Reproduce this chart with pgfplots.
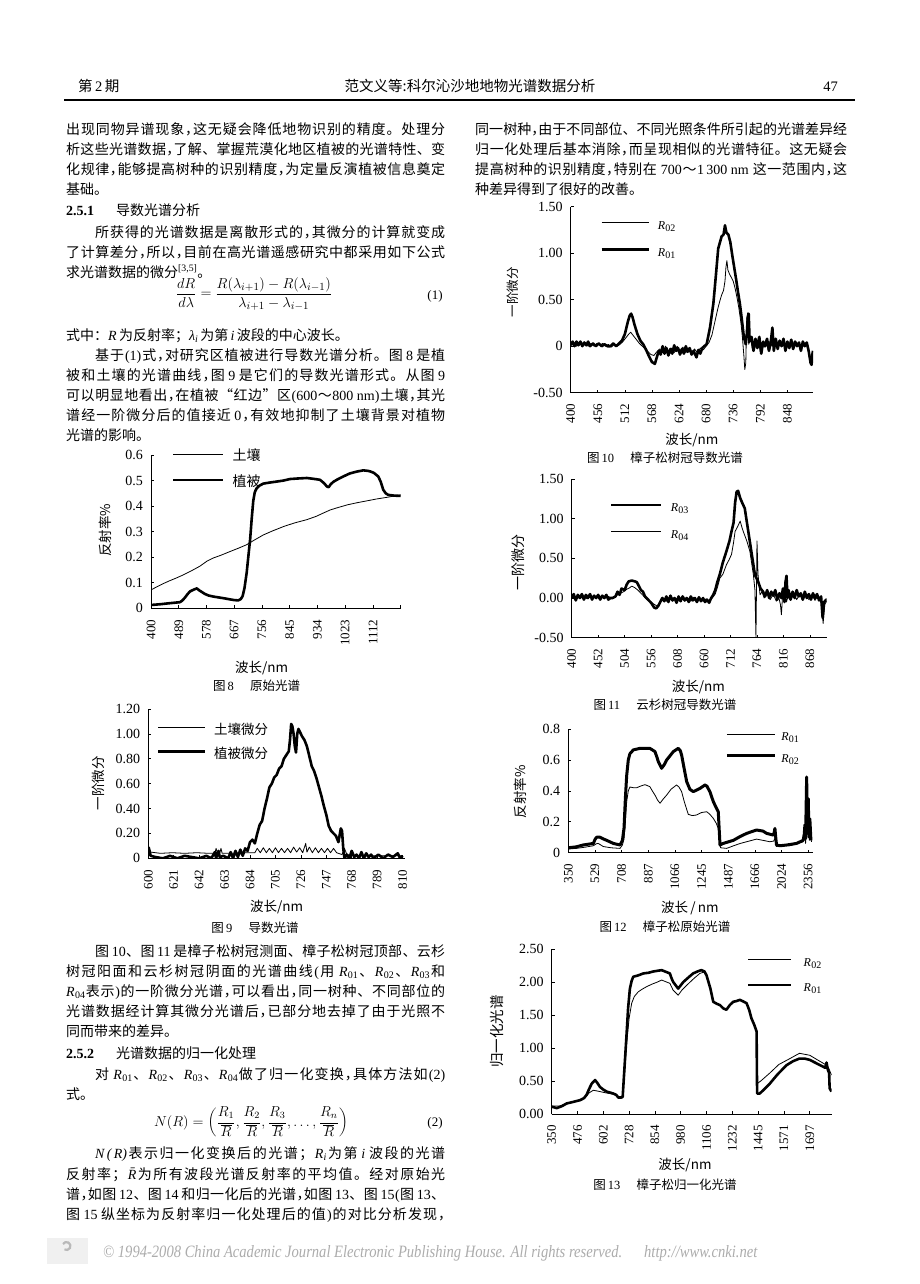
\documentclass[border=0pt]{standalone}
\usepackage{pgfplots}
\pgfplotsset{compat=1.18}
\usepackage{fontspec}
\usepackage{graphicx}
\setmainfont{Noto Sans CJK SC}
\newfontfamily\lat{Liberation Serif}
\makeatletter
\newcommand\jl[2]{\hbox to #1{\@tfor\@jt:=#2\do{{\@jt}\hfil}\unskip}}
\makeatother
\newcommand\dou{\makebox[0.5em][l]{，}}
\newcommand\Rs[1]{{\lat\itshape R\kern0.3pt\raisebox{-0.35ex}{\fontsize{10}{10}\selectfont\upshape #1}}}
\tikzset{tl/.style={anchor=base west, inner sep=0pt, font=\fontsize{14}{16}\selectfont},
  capn/.style={anchor=center, inner sep=0pt, font=\fontsize{12.5}{14}\selectfont}}
\pgfplotsset{pg/.style={scale only axis, anchor=south west, axis lines=left,
  axis line style={-, line width=0.7pt}, tick align=inside, major tick length=3pt,
  tick style={line width=0.6pt, black}, enlargelimits=false, no markers,
  every axis plot/.append style={black, line join=round},
  yticklabel style={font=\fontsize{14}{14}\selectfont\lat, anchor=east, inner sep=0pt, xshift=-8pt},
  xticklabel style={font=\fontsize{13}{13}\selectfont\lat, rotate=90, anchor=east, inner xsep=11pt, inner ysep=0pt},
  label style={font=\fontsize{13.5}{14}\selectfont},
  legend cell align=left,
  legend style={draw=none, fill=none, inner sep=0pt, anchor=north west, column sep=8pt,
    nodes={inner sep=0pt, text height=9pt, text depth=3pt}}},
  thn/.style={line width=0.8pt}, thk/.style={line width=2.6pt}}
\begin{document}
\begin{tikzpicture}
\useasboundingbox (0pt,0pt) rectangle (920pt,-1284pt);
\fill[white] (0pt,0pt) rectangle (920pt,-1284pt);
% header
\node[anchor=base west, inner sep=0pt, font=\fontsize{14.5}{16}\selectfont] at (78pt,-92pt) {第\,{\lat 2}\,期};
\node[anchor=base, inner sep=0pt, font=\fontsize{14.5}{16}\selectfont] at (470pt,-92pt) {范文义等:科尔沁沙地地物光谱数据分析};
\node[anchor=base east, inner sep=0pt, font=\fontsize{14.5}{16}\selectfont\lat] at (838pt,-92pt) {47};
\draw[line width=1.1pt] (64pt,-100pt) -- (855pt,-100pt);
% left column top
\node[tl] at (66pt,-135pt) {\jl{379pt}{出现同物异谱现象\dou 这无疑会降低地物识别的精度。处理分}};
\node[tl] at (66pt,-155pt) {\jl{379pt}{析这些光谱数据\dou 了解、掌握荒漠化地区植被的光谱特性、变}};
\node[tl] at (66pt,-175pt) {\jl{379pt}{化规律\dou 能够提高树种的识别精度\dou 为定量反演植被信息奠定}};
\node[tl] at (66pt,-195pt) {基础。};
\node[tl] at (66pt,-215pt) {{\lat\bfseries 2.5.1}};
\node[tl] at (116pt,-215pt) {导数光谱分析};
\node[tl] at (95pt,-237pt) {\jl{350pt}{所获得的光谱数据是离散形式的\dou 其微分的计算就变成}};
\node[tl] at (66pt,-257pt) {\jl{379pt}{了计算差分\dou 所以\dou 目前在高光谱遥感研究中都采用如下公式}};
\node[tl] at (66pt,-277pt) {求光谱数据的微分\textsuperscript{\lat [3,5]}。};
\node[font=\fontsize{15.5}{17}\selectfont] at (254pt,-294pt) {$\displaystyle\frac{dR}{d\lambda}=\frac{R(\lambda_{i+1})-R(\lambda_{i-1})}{\lambda_{i+1}-\lambda_{i-1}}$};
\node[font=\fontsize{13}{15}\selectfont\lat] at (435pt,-296pt) {(1)};
\node[tl] at (66pt,-340pt) {式中：{\lat\itshape R}\,为反射率；{\lat\itshape λ}\raisebox{-0.35ex}{\fontsize{10}{10}\selectfont\lat\itshape i}\,为第\,{\lat\itshape i}\,波段的中心波长。};
\node[tl] at (95pt,-360pt) {\jl{350pt}{基于{\lat (1)}式\dou 对研究区植被进行导数光谱分析。图{\lat\,8\,}是植}};
\node[tl] at (66pt,-380pt) {\jl{379pt}{被和土壤的光谱曲线\dou 图{\lat\,9\,}是它们的导数光谱形式。从图{\lat\,9}}};
\node[tl] at (66pt,-400pt) {\jl{379pt}{可以明显地看出\dou 在植被“红边”区{\lat (600}～{\lat 800 nm)}土壤\dou 其光}};
\node[tl] at (66pt,-420pt) {\jl{379pt}{谱经一阶微分后的值接近{\lat\,0}\dou 有效地抑制了土壤背景对植物}};
\node[tl] at (66pt,-440pt) {光谱的影响。};
% right column top
\node[tl] at (475pt,-135pt) {\jl{372pt}{同一树种\dou 由于不同部位、不同光照条件所引起的光谱差异经}};
\node[tl] at (475pt,-155pt) {\jl{372pt}{归一化处理后基本消除\dou 而呈现相似的光谱特征。这无疑会}};
\node[tl] at (475pt,-175pt) {\jl{372pt}{提高树种的识别精度\dou 特别在{\lat\ 700}～{\lat 1\,300 nm\ }这一范围内\dou 这}};
\node[tl] at (475pt,-195pt) {种差异得到了很好的改善。};
% left column bottom
\node[tl] at (95pt,-956.7pt) {\jl{350pt}{图{\lat\,10}、图{\lat\,11\,}是樟子松树冠测面、樟子松树冠顶部、云杉}};
\node[tl] at (66pt,-976.7pt) {\jl{379pt}{树冠阳面和云杉树冠阴面的光谱曲线{\lat (}用{\ \Rs{01}}、{\Rs{02}}、{\Rs{03}}和}};
\node[tl] at (66pt,-996.7pt) {\jl{379pt}{{\Rs{04}}表示{\lat )}的一阶微分光谱\dou 可以看出\dou 同一树种、不同部位的}};
\node[tl] at (66pt,-1016.7pt) {\jl{379pt}{光谱数据经计算其微分光谱后\dou 已部分地去掉了由于光照不}};
\node[tl] at (66pt,-1036.7pt) {同而带来的差异。};
\node[tl] at (66pt,-1058.3pt) {{\lat\bfseries 2.5.2}};
\node[tl] at (116pt,-1058.3pt) {光谱数据的归一化处理};
\node[tl] at (95pt,-1079pt) {\jl{350pt}{对{\ \Rs{01}}、{\Rs{02}}、{\Rs{03}}、{\Rs{04}}做了归一化变换\dou 具体方法如{\lat (2)}}};
\node[tl] at (66pt,-1099pt) {式。};
\node[font=\fontsize{12}{14}\selectfont] at (251pt,-1122pt) {\scalebox{1.2}{$\displaystyle N(R)=\left(\frac{R_1}{\,\overline{R}\,},\frac{R_2}{\,\overline{R}\,},\frac{R_3}{\,\overline{R}\,},\ldots,\frac{R_n}{\,\overline{R}\,}\right)$}};
\node[font=\fontsize{13}{15}\selectfont\lat] at (435pt,-1123pt) {(2)};
\node[tl] at (95pt,-1158.3pt) {\jl{350pt}{{\lat\itshape N\,(\,R)}表示归一化变换后的光谱；{\Rs{\itshape i}}为第{\lat\,\itshape i\,}波段的光谱}};
\node[tl] at (66pt,-1179pt) {\jl{379pt}{反射率；{\lat\itshape\=R}为所有波段光谱反射率的平均值。经对原始光}};
\node[tl] at (66pt,-1199pt) {\jl{379pt}{谱\dou 如图{\lat\,12}、图{\lat\,14\,}和归一化后的光谱\dou 如图{\lat\,13}、图{\lat\,15}{\lat (}图{\lat\,13}、}};
\node[tl] at (66pt,-1219pt) {\jl{379pt}{图{\lat\,15\,}纵坐标为反射率归一化处理后的值{\lat )}的对比分析发现\dou}};
% footer
\fill[gray!12] (47pt,-1238pt) rectangle (88pt,-1264pt);
\draw[gray!55, line width=2.2pt] (63pt,-1244pt) arc (150:-120:4pt);
\node[anchor=west, inner sep=0pt, text=gray!65] at (103pt,-1253pt) {\resizebox{654pt}{12pt}{\lat\itshape © 1994-2008 China Academic Journal Electronic Publishing House. All rights reserved.\hspace{1.5em}http://www.cnki.net}};
% captions
\node[capn] at (256.7pt,-686pt) {图\,{\lat 8}\hspace{1.3em}原始光谱};
\node[capn] at (255pt,-928pt) {图\,{\lat 9}\hspace{1.3em}导数光谱};
\node[capn] at (665pt,-458pt) {图\,{\lat 10}\hspace{1.3em}樟子松树冠导数光谱};
\node[capn] at (665pt,-705pt) {图\,{\lat 11}\hspace{1.3em}云杉树冠导数光谱};
\node[capn] at (665pt,-926.7pt) {图\,{\lat 12}\hspace{1.3em}樟子松原始光谱};
\node[capn] at (665pt,-1185pt) {图\,{\lat 13}\hspace{1.3em}樟子松归一化光谱};

% ===== Fig 8 =====
\begin{axis}[pg, at={(151pt,-608.3pt)}, width=249.7pt, height=153.3pt,
  xmin=400, xmax=1201, ymin=0, ymax=0.6,
  xtick={400,489,...,1201}, xticklabels={400,489,578,667,756,845,934,1023,1112,{}},
  ytick={0,0.1,...,0.6}, yticklabels={0,0.1,0.2,0.3,0.4,0.5,0.6},
  xlabel={波长/nm}, xlabel style={at={([yshift=-59.7pt]axis description cs:0.443,0)}, anchor=center},
  ylabel={反射率\%}, ylabel style={at={([xshift=-46pt]axis description cs:0,0.51)}, anchor=center},
  legend style={at={(axis description cs:0.083,1.0215)}, row sep=14pt, font=\fontsize{14}{14}\selectfont},
  legend image code/.code={\draw[#1] (0pt,4pt) -- (50pt,4pt);}]
\addplot[thn] coordinates {(400,0.072)(420,0.085)(440,0.097)(460,0.108)(480,0.118)(504,0.131)(530,0.147)(557,0.165)(580,0.185)(600,0.197)(625,0.208)(653,0.222)(680,0.235)(707,0.249)(730,0.266)(760,0.287)(790,0.303)(825,0.320)(860,0.334)(900,0.347)(930,0.36)(953,0.373)(975,0.385)(996,0.393)(1030,0.405)(1060,0.413)(1090,0.420)(1124,0.428)(1160,0.435)(1201,0.444)};
\addlegendentry{土壤}
\addplot[thk] coordinates {(400,0.013)(430,0.016)(460,0.02)(493,0.024)(500,0.03)(509,0.042)(517,0.055)(525,0.066)(535,0.072)(547,0.078)(555,0.07)(563,0.064)(573,0.056)(585,0.05)(600,0.046)(620,0.042)(640,0.038)(653,0.035)(668,0.032)(680,0.031)(688,0.036)(694,0.048)(700,0.08)(707,0.14)(712,0.2)(718,0.27)(723,0.35)(728,0.42)(733,0.455)(739,0.47)(748,0.48)(760,0.488)(780,0.492)(803,0.496)(825,0.5)(846,0.506)(870,0.508)(900,0.51)(920,0.507)(942,0.503)(955,0.49)(964,0.477)(970,0.474)(976,0.485)(985,0.495)(996,0.503)(1015,0.515)(1038,0.528)(1060,0.535)(1081,0.54)(1095,0.538)(1103,0.536)(1115,0.53)(1129,0.516)(1137,0.495)(1145,0.464)(1153,0.45)(1161,0.444)(1180,0.441)(1201,0.44)};
\addlegendentry{植被}
\end{axis}

% ===== Fig 9 =====
\begin{axis}[pg, at={(148.3pt,-858.3pt)}, width=256.7pt, height=149.3pt,
  xmin=600, xmax=812, ymin=0, ymax=1.2,
  xtick={600,621,...,810}, xticklabels={600,621,642,663,684,705,726,747,768,789,810},
  ytick={0,0.2,...,1.2}, yticklabels={0,0.20,0.40,0.60,0.80,1.00,1.20},
  xlabel={波长/nm}, xlabel style={at={([yshift=-48.7pt]axis description cs:0.5,0)}, anchor=center},
  ylabel={一阶微分}, ylabel style={at={([xshift=-50.3pt]axis description cs:0,0.504)}, anchor=center},
  legend style={at={(axis description cs:0.033,0.893)}, row sep=12.3pt, font=\fontsize{13.5}{14}\selectfont},
  legend image code/.code={\draw[#1] (0pt,4pt) -- (46.6pt,4pt);}]
\addplot[thn] coordinates {(600,0.04)(601,0.09)(602,0.05)(610,0.04)(620,0.045)(630,0.04)(640,0.045)(650,0.04)(655,0.04)(656,0.08)(657,0.04)(659,0.04)(660,0.08)(661,0.04)(670,0.04)(680,0.045)(688,0.045)(690,0.08)(692.5,0.045)(695,0.085)(697.5,0.045)(700,0.08)(702.5,0.045)(705,0.085)(707.5,0.045)(710,0.08)(712.5,0.045)(715,0.08)(717.5,0.045)(720,0.09)(722.5,0.05)(725,0.085)(727.5,0.045)(730,0.12)(731,0.05)(733,0.09)(735.5,0.045)(738,0.085)(740.5,0.045)(743,0.08)(745.5,0.045)(748,0.08)(750.5,0.045)(753,0.08)(755.5,0.045)(757,0.04)(760,0.03)(762,0.08)(764,0.03)(770,0.02)(790,0.02)(810,0.02)};
\addlegendentry{土壤微分}
\addplot[thk] coordinates {(600,0.02)(601,0.06)(602,0.02)(606,0.01)(612,0.0)(618,0.02)(624,0.0)(630,0.02)(636,0.01)(642,0.0)(648,0.02)(652,0.0)(655,0.05)(656,0.0)(658,0.06)(659,0.01)(662,0.02)(666,0.0)(668,0.05)(670,0.0)(672,0.06)(674,0.01)(676,0.07)(678,0.02)(680,0.08)(682,0.06)(684,0.13)(686,0.15)(688,0.12)(690,0.2)(692,0.27)(694,0.3)(696,0.4)(698,0.48)(700,0.57)(702,0.6)(704,0.65)(706,0.67)(708,0.72)(710,0.74)(712,0.8)(714,0.83)(716,0.86)(717,0.95)(718,1.08)(719,1.06)(720,1.0)(721,0.9)(722,0.85)(723,1.0)(724,1.04)(725,1.02)(727,0.98)(729,0.95)(731,0.9)(733,0.82)(735,0.74)(737,0.7)(739,0.64)(741,0.57)(743,0.5)(745,0.42)(747,0.35)(749,0.26)(751,0.22)(753,0.2)(755,0.18)(757,0.13)(759,0.24)(760,0.22)(761,0.08)(762,0.0)(764,0.03)(766,0.0)(768,0.06)(770,0.01)(772,0.03)(774,0.0)(776,0.05)(778,0.0)(780,0.04)(782,0.01)(784,0.03)(786,0.0)(790,0.03)(794,0.0)(798,0.03)(802,0.01)(806,0.04)(808,0.0)(810,0.02)};
\addlegendentry{植被微分}
\end{axis}

% ===== Fig 10 =====
\begin{axis}[pg, at={(570.7pt,-392.7pt)}, width=242.3pt, height=186pt,
  xmin=400, xmax=901, ymin=-0.5, ymax=1.5,
  xtick={400,456,...,900}, xticklabels={400,456,512,568,624,680,736,792,848},
  ytick={-0.5,0,0.5,1,1.5}, yticklabels={-0.50,0,0.50,1.00,1.50},
  xlabel={波长/nm}, xlabel style={at={([yshift=-47.3pt]axis description cs:0.5,0)}, anchor=center},
  ylabel={一阶微分}, ylabel style={at={([xshift=-57.7pt]axis description cs:0,0.54)}, anchor=center, font=\fontsize{12.5}{13}\selectfont},
  legend style={at={(axis description cs:0.121,0.9285)}, row sep=15pt, font=\fontsize{12}{12}\selectfont},
  legend image code/.code={\draw[#1] (0pt,4pt) -- (47pt,4pt);}]
\addplot[thn] coordinates {(400,0.02)(406,0.04)(412,0.0)(418,0.03)(424,0.01)(430,0.04)(436,0.0)(442,0.03)(448,0.0)(454,0.03)(460,0.01)(466,0.03)(472,0.0)(478,0.02)(484,-0.01)(490,0.02)(496,0.0)(502,0.02)(508,0.05)(514,0.09)(520,0.13)(524,0.15)(530,0.11)(536,0.07)(542,0.03)(548,0.0)(554,-0.03)(560,-0.06)(566,-0.09)(572,-0.1)(578,-0.06)(584,-0.03)(590,-0.07)(596,0.0)(602,-0.06)(608,-0.02)(614,-0.07)(620,0.0)(626,-0.05)(632,-0.01)(638,-0.07)(644,-0.02)(650,-0.08)(656,-0.03)(662,-0.07)(668,-0.02)(674,-0.04)(680,0.0)(686,0.04)(692,0.12)(698,0.26)(704,0.4)(708,0.48)(712,0.55)(716,0.6)(719,0.7)(721,0.85)(723,0.92)(725,0.82)(728,0.78)(732,0.74)(736,0.7)(740,0.62)(744,0.52)(748,0.4)(752,0.25)(755,0.1)(758,-0.1)(760,-0.25)(762,-0.18)(764,0.3)(766,0.36)(768,0.02)(772,0.08)(776,-0.04)(780,0.06)(784,-0.02)(788,0.09)(792,-0.06)(796,0.04)(800,-0.01)(804,0.07)(808,-0.04)(812,0.05)(816,0.0)(818,0.18)(820,-0.04)(824,0.07)(828,-0.02)(832,0.05)(836,0.0)(840,0.07)(844,-0.04)(848,0.04)(852,-0.02)(856,0.06)(860,-0.03)(864,0.04)(868,0.0)(872,0.03)(876,-0.04)(880,0.04)(884,0.0)(888,0.03)(892,-0.04)(896,-0.15)(898,-0.18)(900,-0.07)(901,-0.05)};
\addlegendentry{\Rs{02}}
\addplot[thk] coordinates {(400,0.01)(404,0.05)(408,0.0)(412,0.05)(416,0.01)(420,0.05)(424,0.0)(428,0.04)(432,0.01)(436,0.05)(440,0.0)(446,0.03)(452,0.0)(458,0.03)(464,0.0)(470,0.02)(476,0.0)(482,0.0)(488,0.03)(494,0.0)(500,0.03)(506,0.06)(512,0.13)(518,0.26)(522,0.33)(525,0.35)(528,0.31)(532,0.23)(538,0.13)(544,0.06)(550,0.02)(556,-0.04)(562,-0.11)(568,-0.17)(574,-0.19)(578,-0.12)(582,-0.05)(586,-0.09)(590,0.0)(594,-0.08)(598,-0.02)(602,-0.1)(606,-0.03)(610,-0.08)(614,0.01)(618,-0.05)(622,-0.02)(626,-0.09)(630,-0.03)(634,-0.08)(638,0.0)(642,-0.06)(646,-0.02)(650,-0.09)(654,-0.05)(660,-0.12)(664,-0.04)(668,-0.08)(672,-0.02)(676,0.0)(681,0.02)(688,0.2)(695,0.46)(700,0.75)(705,1.05)(712,1.18)(716,1.2)(719,1.3)(722,1.22)(726,1.2)(730,1.12)(734,0.98)(738,0.85)(742,0.72)(746,0.58)(750,0.45)(754,0.28)(758,0.1)(762,0.02)(764,0.12)(766,0.3)(768,0.35)(770,0.05)(774,0.1)(778,-0.05)(782,0.08)(786,-0.02)(790,0.1)(794,-0.08)(798,0.05)(802,0.0)(806,0.08)(810,-0.05)(814,0.06)(817,0.2)(820,-0.05)(824,0.08)(828,-0.03)(832,0.06)(836,0.0)(840,0.08)(844,-0.05)(848,0.05)(852,-0.02)(856,0.07)(860,-0.03)(864,0.05)(868,0.0)(872,0.04)(876,-0.05)(880,0.05)(884,0.0)(888,0.04)(892,-0.05)(896,-0.18)(898,-0.2)(900,-0.08)(901,-0.05)};
\addlegendentry{\Rs{01}}
\end{axis}

% ===== Fig 11 =====
\begin{axis}[pg, at={(571.7pt,-637.7pt)}, width=255pt, height=158.7pt,
  xmin=400, xmax=901, ymin=-0.5, ymax=1.5,
  xtick={400,452,...,868}, xticklabels={400,452,504,556,608,660,712,764,816,868},
  ytick={-0.5,0,0.5,1,1.5}, yticklabels={-0.50,0.00,0.50,1.00,1.50},
  xlabel={波长/nm}, xlabel style={at={([yshift=-49.3pt]axis description cs:0.497,0)}, anchor=center},
  ylabel={一阶微分}, ylabel style={at={([xshift=-53.7pt]axis description cs:0,0.477)}, anchor=center, font=\fontsize{14}{14}\selectfont},
  legend style={at={(axis description cs:0.150,0.851)}, row sep=14.7pt, font=\fontsize{12}{12}\selectfont},
  legend image code/.code={\draw[#1] (0pt,4pt) -- (50pt,4pt);}]
\addplot[thk] coordinates {(400,0.0)(404,0.05)(408,-0.03)(412,0.04)(416,0.0)(420,0.05)(424,-0.02)(428,0.04)(432,0.0)(436,0.05)(440,-0.02)(444,0.03)(448,0.0)(452,0.04)(456,-0.02)(460,0.03)(464,0.0)(468,0.04)(472,-0.02)(476,0.0)(480,0.0)(486,0.02)(490,0.08)(494,0.04)(498,0.12)(504,0.1)(508,0.17)(512,0.21)(518,0.22)(524,0.21)(528,0.2)(532,0.15)(536,0.1)(540,0.08)(544,0.02)(550,-0.02)(556,-0.06)(562,-0.12)(566,-0.13)(570,-0.1)(574,-0.05)(578,0.0)(582,-0.04)(586,0.02)(590,-0.05)(594,0.03)(598,-0.03)(602,0.0)(606,-0.06)(610,0.02)(614,-0.04)(618,0.02)(622,-0.03)(626,0.0)(630,-0.05)(634,0.02)(638,-0.03)(642,0.0)(646,-0.05)(650,0.01)(654,-0.04)(658,0.0)(662,-0.05)(666,-0.02)(670,-0.06)(674,0.0)(678,0.04)(682,0.1)(686,0.2)(691,0.3)(697,0.45)(704,0.59)(710,0.72)(714,0.84)(718,0.95)(721,1.2)(724,1.34)(727,1.35)(731,1.26)(735,1.2)(740,1.13)(745,0.92)(750,0.71)(755,0.5)(760,0.29)(766,0.21)(771,0.12)(776,0.08)(780,0.02)(784,0.1)(788,0.0)(792,0.08)(796,0.03)(800,0.1)(804,-0.02)(808,0.06)(812,0.0)(815,0.12)(818,-0.05)(820,0.2)(822,0.28)(824,0.0)(826,0.1)(830,-0.02)(834,0.08)(838,0.0)(842,0.1)(846,0.02)(850,0.06)(854,-0.02)(858,0.08)(862,0.0)(866,0.05)(870,-0.02)(874,0.06)(878,0.0)(882,0.05)(886,-0.03)(890,0.02)(893,-0.25)(896,-0.05)(900,-0.02)(901,-0.03)};
\addlegendentry{\Rs{03}}
\addplot[thn] coordinates {(400,0.02)(406,-0.02)(412,0.03)(418,0.0)(424,0.03)(430,-0.01)(436,0.03)(442,0.0)(448,0.02)(454,-0.01)(460,0.02)(466,0.0)(472,0.02)(478,0.0)(484,0.01)(490,0.04)(496,0.06)(502,0.08)(508,0.11)(514,0.13)(518,0.15)(524,0.13)(530,0.1)(536,0.06)(542,0.02)(548,-0.02)(556,-0.05)(562,-0.08)(568,-0.1)(574,-0.04)(580,0.0)(586,-0.04)(592,0.01)(598,-0.04)(604,0.0)(610,-0.03)(616,0.01)(622,-0.04)(628,0.0)(634,-0.04)(640,0.01)(646,-0.03)(652,0.0)(658,-0.04)(664,-0.01)(670,-0.04)(676,0.0)(682,0.05)(687,0.15)(691,0.25)(697,0.3)(704,0.42)(709,0.48)(714,0.55)(718,0.7)(721,0.84)(726,0.9)(731,0.97)(734,0.9)(737,0.84)(744,0.72)(750,0.59)(757,0.29)(760,0.1)(762,-0.5)(764,0.72)(766,0.3)(770,0.04)(774,0.08)(778,0.0)(784,0.06)(790,-0.02)(796,0.05)(802,-0.04)(806,0.03)(810,-0.08)(812,-0.21)(814,0.0)(818,0.08)(822,-0.05)(826,0.06)(830,-0.03)(836,0.05)(842,-0.02)(848,0.05)(854,-0.03)(860,0.04)(866,-0.02)(872,0.04)(878,-0.03)(884,0.03)(890,-0.04)(894,-0.32)(897,-0.08)(901,-0.04)};
\addlegendentry{\Rs{04}}
\end{axis}

% ===== Fig 12 =====
\begin{axis}[pg, at={(568.3pt,-852.7pt)}, width=245pt, height=123.7pt,
  xmin=0, xmax=9.19, ymin=0, ymax=0.8,
  xtick={0,1,...,9}, xticklabels={350,529,708,887,1066,1245,1487,1666,2024,2356},
  ytick={0,0.2,...,0.8}, yticklabels={0,0.2,0.4,0.6,0.8},
  xlabel={波长\,/\,nm}, xlabel style={at={([yshift=-55pt]axis description cs:0.496,0)}, anchor=center},
  ylabel={反射率\%}, ylabel style={at={([xshift=-48.3pt]axis description cs:0,0.493)}, anchor=center},
  legend style={at={(axis description cs:0.640,0.978)}, row sep=9.7pt, column sep=5pt, font=\fontsize{12}{12}\selectfont},
  legend image code/.code={\draw[#1] (0pt,4pt) -- (48pt,4pt);}]
\addplot[thn] coordinates {(0,0.024)(0.3,0.028)(0.6,0.035)(0.94,0.045)(1.05,0.058)(1.12,0.06)(1.2,0.052)(1.31,0.04)(1.6,0.032)(1.94,0.028)(2.03,0.05)(2.09,0.09)(2.14,0.2)(2.19,0.33)(2.25,0.4)(2.31,0.425)(2.45,0.42)(2.56,0.42)(2.7,0.43)(2.875,0.44)(2.95,0.435)(3.06,0.427)(3.15,0.4)(3.25,0.373)(3.35,0.34)(3.44,0.32)(3.55,0.345)(3.69,0.373)(3.85,0.41)(4.06,0.438)(4.15,0.425)(4.25,0.395)(4.35,0.33)(4.5,0.248)(4.65,0.24)(4.81,0.244)(5.0,0.26)(5.19,0.265)(5.3,0.25)(5.44,0.222)(5.55,0.19)(5.625,0.157)(5.67,0.08)(5.71,0.032)(5.94,0.028)(6.2,0.045)(6.45,0.06)(6.69,0.071)(7.06,0.088)(7.3,0.08)(7.56,0.071)(7.7,0.075)(7.75,0.093)(7.8,0.04)(8.0,0.05)(8.3,0.045)(8.6,0.06)(8.8,0.07)(8.86,0.15)(8.9,0.06)(8.94,0.38)(8.98,0.12)(9.0,0.3)(9.04,0.08)(9.08,0.16)(9.12,0.07)};
\addlegendentry{\Rs{01}}
\addplot[thk, line width=3pt] coordinates {(0,0.032)(0.3,0.038)(0.56,0.05)(0.94,0.06)(1.0,0.085)(1.06,0.1)(1.19,0.1)(1.3,0.09)(1.44,0.08)(1.69,0.06)(1.94,0.05)(2.03,0.08)(2.09,0.16)(2.14,0.35)(2.19,0.5)(2.25,0.6)(2.31,0.64)(2.44,0.665)(2.69,0.675)(3.06,0.675)(3.25,0.654)(3.32,0.62)(3.375,0.59)(3.5,0.546)(3.6,0.57)(3.69,0.6)(3.94,0.654)(4.125,0.675)(4.2,0.66)(4.25,0.632)(4.35,0.54)(4.44,0.46)(4.56,0.41)(4.69,0.395)(4.94,0.416)(5.125,0.438)(5.2,0.43)(5.31,0.395)(5.44,0.33)(5.55,0.29)(5.625,0.265)(5.66,0.15)(5.69,0.05)(5.81,0.06)(6.19,0.08)(6.45,0.105)(6.69,0.125)(7.06,0.147)(7.3,0.14)(7.44,0.125)(7.69,0.114)(7.72,0.13)(7.75,0.157)(7.78,0.1)(7.81,0.05)(7.94,0.045)(8.2,0.05)(8.56,0.06)(8.81,0.08)(8.85,0.12)(8.875,0.18)(8.9,0.09)(8.94,0.49)(8.97,0.14)(9.0,0.35)(9.03,0.1)(9.06,0.22)(9.1,0.08)};
\addlegendentry{\Rs{02}}
\end{axis}

% ===== Fig 13 =====
\begin{axis}[pg, at={(551.7pt,-1114pt)}, width=280pt, height=165pt,
  xmin=0, xmax=10.85, ymin=0, ymax=2.5,
  xtick={0,1,...,10}, xticklabels={350,476,602,728,854,980,1106,1232,1445,1571,1697},
  ytick={0,0.5,...,2.5}, yticklabels={0.00,0.50,1.00,1.50,2.00,2.50},
  xlabel={波长/nm}, xlabel style={at={([yshift=-51pt]axis description cs:0.476,0)}, anchor=center},
  ylabel={归一化光谱}, ylabel style={at={([xshift=-55pt]axis description cs:0,0.499)}, anchor=center, font=\fontsize{14.5}{15}\selectfont},
  legend style={at={(axis description cs:0.696,0.950)}, row sep=13.4pt, column sep=11pt, font=\fontsize{12}{12}\selectfont},
  legend image code/.code={\draw[#1] (0pt,4pt) -- (43.3pt,4pt);}]
\addplot[thn] coordinates {(0,0.12)(0.3,0.12)(0.58,0.16)(0.9,0.19)(1.1,0.21)(1.3,0.25)(1.45,0.32)(1.61,0.36)(1.75,0.35)(1.87,0.34)(2.1,0.32)(2.39,0.30)(2.55,0.27)(2.65,0.26)(2.75,0.27)(2.82,0.6)(2.9,1.05)(3.0,1.45)(3.1,1.68)(3.2,1.78)(3.35,1.85)(3.5,1.89)(3.68,1.93)(3.9,1.97)(4.1,2.0)(4.26,2.03)(4.45,2.0)(4.58,1.98)(4.7,1.88)(4.9,1.80)(5.05,1.88)(5.23,1.95)(5.5,2.05)(5.74,2.13)(5.9,2.15)(6.0,2.1)(6.15,1.9)(6.26,1.70)(6.52,1.65)(6.77,1.58)(7.03,1.70)(7.29,1.73)(7.55,1.68)(7.74,1.45)(7.94,1.25)(7.96,0.46)(8.1,0.5)(8.45,0.62)(8.8,0.75)(9.23,0.84)(9.6,0.92)(10.0,0.89)(10.3,0.82)(10.65,0.74)(10.75,0.68)(10.84,0.59)};
\addlegendentry{\Rs{02}}
\addplot[thk] coordinates {(0,0.11)(0.2,0.09)(0.4,0.12)(0.58,0.16)(0.8,0.18)(1.1,0.21)(1.25,0.24)(1.35,0.29)(1.45,0.38)(1.55,0.46)(1.68,0.515)(1.77,0.47)(1.87,0.41)(2.0,0.37)(2.13,0.34)(2.39,0.31)(2.5,0.29)(2.58,0.25)(2.7,0.25)(2.75,0.26)(2.82,0.7)(2.9,1.2)(2.96,1.6)(3.03,1.9)(3.1,2.02)(3.16,2.08)(3.35,2.1)(3.55,2.13)(3.75,2.14)(3.94,2.16)(4.1,2.17)(4.26,2.18)(4.45,2.15)(4.58,2.13)(4.65,2.05)(4.71,2.0)(4.9,1.9)(5.1,2.0)(5.3,2.07)(5.48,2.13)(5.65,2.16)(5.8,2.18)(5.92,2.16)(6.0,2.1)(6.15,1.9)(6.26,1.70)(6.4,1.67)(6.52,1.65)(6.65,1.6)(6.77,1.58)(6.9,1.65)(7.03,1.70)(7.15,1.71)(7.29,1.73)(7.4,1.71)(7.55,1.68)(7.65,1.58)(7.74,1.45)(7.85,1.35)(7.94,1.25)(7.95,0.7)(7.96,0.31)(8.06,0.31)(8.25,0.38)(8.45,0.46)(8.75,0.6)(9.1,0.74)(9.35,0.8)(9.6,0.84)(9.8,0.84)(10.0,0.82)(10.25,0.77)(10.5,0.72)(10.6,0.7)(10.65,0.78)(10.7,0.67)(10.75,0.62)(10.77,0.39)(10.84,0.34)};
\addlegendentry{\Rs{01}}
\end{axis}
\end{tikzpicture}
\end{document}
